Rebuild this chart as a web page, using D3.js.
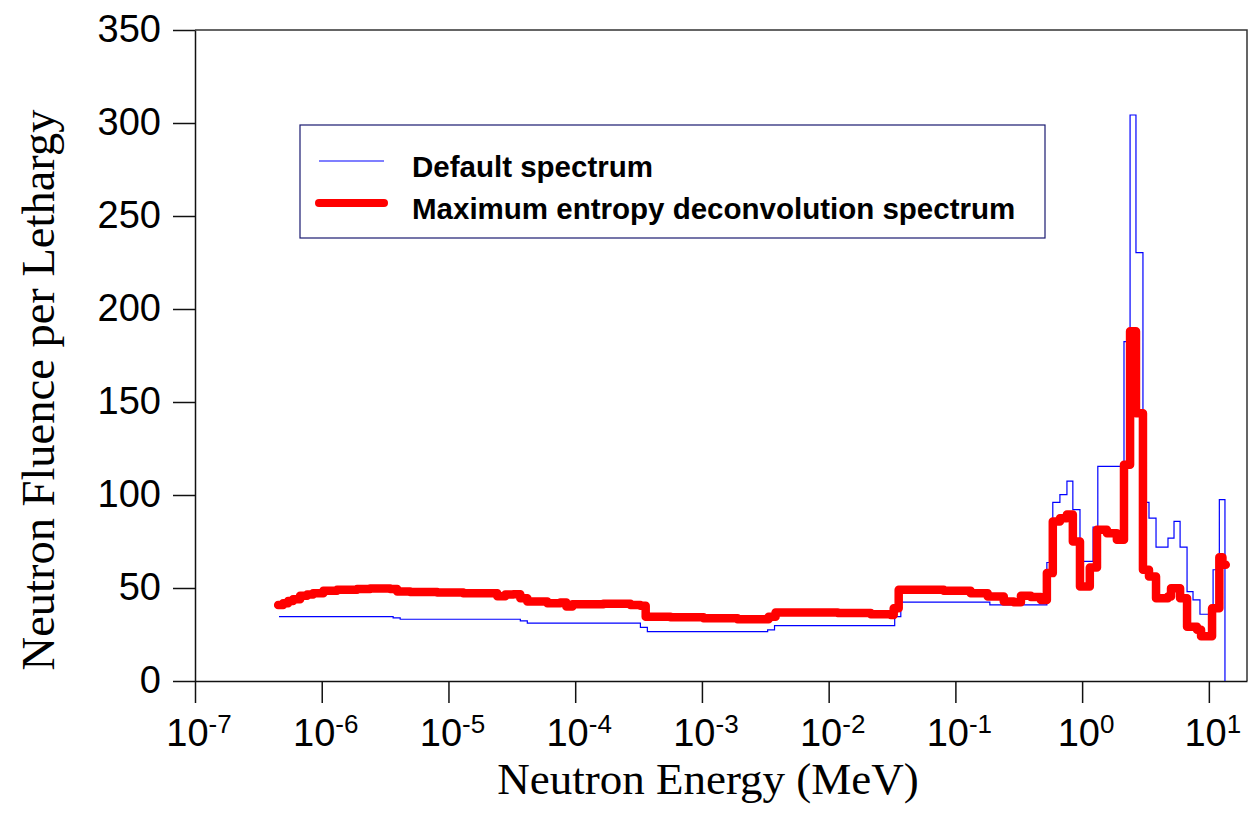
<!DOCTYPE html>
<html>
<head>
<meta charset="utf-8">
<script src="https://cdn.jsdelivr.net/npm/d3@7"></script>
<style>
  body { margin: 0; background: #fff; }
  svg { display: block; }
</style>
</head>
<body>
<script>
// chart size
var width = 1254,
    height = 825;

var margin = {left: 195, right: 7, top: 30, bottom: 144};

// x tick exponents (10^n MeV)
var tickExponents = [-7, -6, -5, -4, -3, -2, -1, 0, 1];
var yTicks = [0, 50, 100, 150, 200, 250, 300, 350];

// Default spectrum: lower bin edges (MeV) and fluence per lethargy
var defaultEnergy = [4.6e-7, 3.66e-6, 4.16e-6, 3.69e-5, 4.19e-5, 3.27e-4, 3.71e-4, 3.30e-3, 3.74e-3,
  0.0332, 0.0371, 0.187, 0.527, 0.587, 0.668, 0.759, 0.845, 0.962, 1.22, 1.33,
  2.14, 2.39, 2.66, 3.02, 3.37, 3.83, 4.76, 5.31, 5.93, 6.73, 7.50, 8.51, 10.8, 12.1, 13.4];
var defaultValue = [34.6, 33.9, 33.2, 32.3, 31.1, 28.8, 26.5, 27.5, 29.8,
  34.6, 42.4, 40.9, 63.7, 96.0, 100.2, 107.5, 92.1, 64.3, 82.8, 115.4,
  182.5, 304.3, 230.3, 96.0, 87.6, 72.0, 76.8, 85.8, 72.0, 48.1, 43.6, 35.9, 59.8, 97.5, 0];

// Maximum entropy deconvolution spectrum
var mesEnergy = [4.53e-7, 4.96e-7, 5.43e-7, 5.94e-7, 6.75e-7, 7.67e-7, 8.55e-7, 1.03e-6, 1.32e-6, 1.90e-6,
  2.41e-6, 3.47e-6, 3.94e-6, 4.99e-6, 8.16e-6, 1.31e-5, 2.02e-5, 2.43e-5, 2.81e-5, 3.25e-5,
  3.69e-5, 4.19e-5, 6.03e-5, 7.64e-5, 8.52e-5, 9.51e-5, 1.67e-4, 2.73e-4, 3.27e-4, 3.6e-4,
  5.65e-4, 1.03e-3, 1.91e-3, 3.01e-3, 3.36e-3, 3.81e-3, 6.35e-3, 0.0118, 0.0215, 0.0309,
  0.0326, 0.0357, 0.0533, 0.0810, 0.132, 0.180, 0.241, 0.289, 0.329, 0.394,
  0.473, 0.527, 0.587, 0.668, 0.759, 0.845, 0.962, 1.15, 1.31, 1.57,
  1.88, 2.14, 2.39, 2.66, 3.02, 3.37, 3.83, 4.76, 5.03, 5.93,
  6.73, 8.07, 8.68, 10.6, 12.1, 12.8, 13.6];
var mesValue = [40.9, 41.8, 43.0, 44.0, 45.8, 46.5, 47.2, 48.5, 49.0, 49.5,
  49.7, 49.5, 48.1, 47.8, 47.6, 47.2, 47.2, 45.6, 46.5, 46.7,
  44.5, 42.7, 41.8, 42.2, 40.0, 41.3, 41.5, 40.9, 40.5, 34.6,
  34.3, 33.8, 33.2, 33.2, 34.6, 36.8, 36.8, 36.5, 35.9, 35.5,
  39.1, 49.0, 49.0, 48.5, 47.2, 45.4, 42.7, 42.4, 45.8, 45.1,
  43.6, 58.0, 85.8, 87.5, 89.5, 75.0, 50.8, 61.0, 81.3, 79.5,
  76.0, 116.3, 188.0, 144.0, 59.8, 56.2, 44.5, 45.4, 49.9, 44.5,
  29.2, 27.5, 24.0, 39.1, 66.5, 62.5, 62.5];

var legendLabels = ["Default spectrum", "Maximum entropy deconvolution spectrum"];

var svg = d3.select("body").append("svg")
    .attr("width", width)
    .attr("height", height);

var x = d3.scaleLog()
    .domain([1e-7, 20])
    .range([margin.left, width - margin.right]);

var y = d3.scaleLinear()
    .domain([0, 350])
    .range([height - margin.bottom, margin.top]);

var x0 = x.range()[0], x1 = x.range()[1],
    y0 = y.range()[0], y1 = y.range()[1];

// frame on top and right
svg.append("path")
    .attr("d", "M" + x0 + "," + y1 + "H" + x1 + "V" + y0)
    .attr("fill", "none")
    .attr("stroke", "#333")
    .attr("stroke-width", 1.5);

// x axis
var xAxis = svg.append("g")
    .attr("transform", "translate(0," + y0 + ")")
    .call(d3.axisBottom(x)
        .tickValues(tickExponents.map(function(e) { return Math.pow(10, e); }))
        .tickSize(22)
        .tickSizeOuter(0)
        .tickFormat(""));
xAxis.select(".domain").attr("stroke", "#111").attr("stroke-width", 1.5);
xAxis.selectAll(".tick line").attr("stroke", "#111").attr("stroke-width", 1.5);

var xLabels = svg.append("g")
    .selectAll("text")
    .data(tickExponents)
    .enter()
    .append("text")
    .attr("x", function(e) { return x(Math.pow(10, e)) + 4; })
    .attr("y", 746)
    .attr("text-anchor", "middle")
    .attr("font-family", "Arial, 'Liberation Sans', sans-serif")
    .attr("font-size", 38)
    .attr("fill", "#000");
xLabels.append("tspan").text("10");
xLabels.append("tspan")
    .attr("font-size", 26)
    .attr("dy", -13)
    .text(function(e) { return e; });

// y axis
var yAxis = svg.append("g")
    .attr("transform", "translate(" + x0 + ",0)")
    .call(d3.axisLeft(y)
        .tickValues(yTicks)
        .tickSize(22)
        .tickSizeOuter(0)
        .tickPadding(12));
yAxis.select(".domain").attr("stroke", "#111").attr("stroke-width", 1.5);
yAxis.selectAll(".tick line").attr("stroke", "#111").attr("stroke-width", 1.5);
yAxis.selectAll(".tick text")
    .attr("font-family", "Arial, 'Liberation Sans', sans-serif")
    .attr("font-size", 38)
    .attr("dy", "0.3em")
    .attr("fill", "#000");

// axis titles
svg.append("text")
    .attr("x", 708)
    .attr("y", 794)
    .attr("text-anchor", "middle")
    .attr("font-family", "'Times New Roman', 'Liberation Serif', serif")
    .attr("font-size", 45)
    .text("Neutron Energy (MeV)");

svg.append("text")
    .attr("transform", "translate(54,390) rotate(-90)")
    .attr("text-anchor", "middle")
    .attr("font-family", "'Times New Roman', 'Liberation Serif', serif")
    .attr("font-size", 46.5)
    .text("Neutron Fluence per Lethargy");

// series
var line = d3.line()
    .x(function(d) { return x(d[0]); })
    .y(function(d) { return y(d[1]); })
    .curve(d3.curveStepAfter);

var defaultData = d3.zip(defaultEnergy, defaultValue);
var mesData = d3.zip(mesEnergy, mesValue);

svg.append("path")
    .datum(defaultData)
    .attr("d", line)
    .attr("fill", "none")
    .attr("stroke", "#0000ff")
    .attr("stroke-width", 1.2);

svg.append("path")
    .datum(mesData)
    .attr("d", line)
    .attr("fill", "none")
    .attr("stroke", "#ff0000")
    .attr("stroke-width", 8.5)
    .attr("stroke-linejoin", "round")
    .attr("stroke-linecap", "round");

// legend
var legend = svg.append("g");
legend.append("rect")
    .attr("x", 300)
    .attr("y", 125)
    .attr("width", 745)
    .attr("height", 113)
    .attr("fill", "#fff")
    .attr("stroke", "#1a1a70")
    .attr("stroke-width", 1.2);

var legendStyles = [
  {color: "#0000ff", width: 1.2},
  {color: "#ff0000", width: 8}
];

legend.selectAll(".item")
    .data(legendLabels)
    .enter()
    .append("g")
    .attr("class", "item")
    .each(function(d, i) {
      var g = d3.select(this),
          cy = 161 + i * 42;
      g.append("line")
          .attr("x1", 319).attr("x2", 384)
          .attr("y1", cy).attr("y2", cy)
          .attr("stroke", legendStyles[i].color)
          .attr("stroke-width", legendStyles[i].width)
          .attr("stroke-linecap", i ? "round" : "butt");
      g.append("text")
          .attr("x", 412)
          .attr("y", cy + 16)
          .attr("font-family", "Arial, 'Liberation Sans', sans-serif")
          .attr("font-weight", "bold")
          .attr("font-size", 29.5)
          .text(d);
    });
</script>
</body>
</html>
